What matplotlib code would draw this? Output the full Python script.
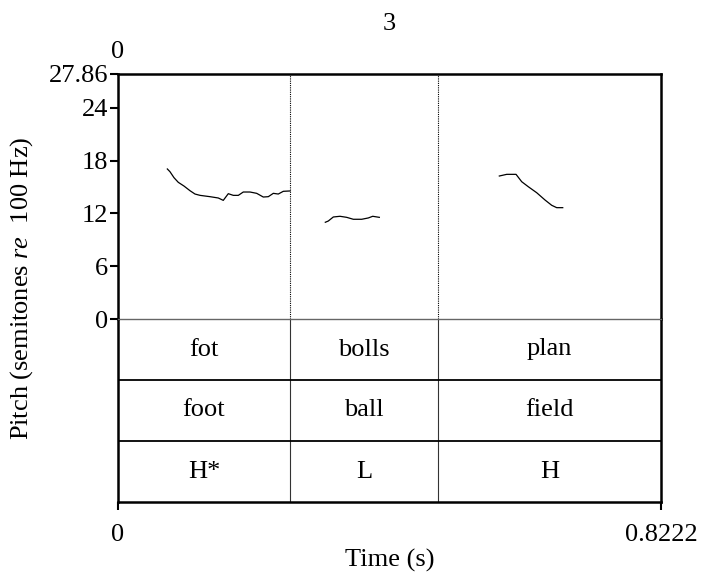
import matplotlib
matplotlib.use("Agg")
import matplotlib.pyplot as plt

plt.rcParams['font.family'] = ['Liberation Serif', 'DejaVu Serif']
plt.rcParams['mathtext.fontset'] = 'custom'
plt.rcParams['mathtext.rm'] = 'Liberation Serif'
plt.rcParams['mathtext.it'] = 'Liberation Serif:italic'

# Data
t_end = 0.8222
y_top = 27.86
boundaries = [0.2604, 0.4846]
tier_words = ["fot", "bolls", "plan"]
tier_gloss = ["foot", "ball", "field"]
tier_tones = ["H*", "L", "H"]

t1 = [0.0747, 0.0787, 0.0848, 0.0913, 0.0999, 0.1090, 0.1166, 0.1242, 0.1393, 0.1519,
      0.1594, 0.1670, 0.1746, 0.1822, 0.1897, 0.1999, 0.2100, 0.2200, 0.2276, 0.2352,
      0.2427, 0.2503, 0.2604]
p1 = [17.06, 16.75, 16.07, 15.54, 15.12, 14.59, 14.21, 14.06, 13.91, 13.76,
      13.49, 14.25, 14.06, 14.06, 14.44, 14.44, 14.29, 13.87, 13.91, 14.29,
      14.21, 14.52, 14.56]
t2 = [0.3139, 0.3184, 0.3260, 0.3361, 0.3463, 0.3563, 0.3690, 0.3790, 0.3857, 0.3957]
p2 = [11.00, 11.14, 11.60, 11.68, 11.56, 11.34, 11.34, 11.49, 11.68, 11.56]
t3 = [0.5774, 0.5886, 0.6027, 0.6113, 0.6213, 0.6340, 0.6466, 0.6567, 0.6643, 0.6734]
p3 = [16.26, 16.45, 16.45, 15.61, 15.04, 14.36, 13.53, 12.93, 12.66, 12.66]

fs = 19
fig = plt.figure(figsize=(7.02, 5.77), dpi=100)
L, W = 118 / 702, 543 / 702
axt = fig.add_axes([L, (577 - 502) / 577, W, 183 / 577])
ax = fig.add_axes([L, (577 - 319) / 577, W, 245 / 577])
ax.patch.set_alpha(0)

# Pitch panel
for t, p in [(t1, p1), (t2, p2), (t3, p3)]:
    ax.plot(t, p, color='black', lw=0.9)
for b in boundaries:
    ax.axvline(b, color='black', lw=0.8, ls=(0, (1, 1)))
ax.set_xlim(0, t_end)
ax.set_ylim(0, y_top)
ax.set_yticks([0, 6, 12, 18, 24, y_top])
ax.set_yticklabels(["0", "6", "12", "18", "24", "27.86"])
ax.set_xticks([])
ax.tick_params(axis='y', direction='out', length=6, width=1.5, labelsize=fs, pad=1)
for s in ['left', 'top', 'right']:
    ax.spines[s].set_linewidth(1.8)
ax.spines['bottom'].set_linewidth(1.0)
ax.spines['bottom'].set_color('#666666')
ax.text(0, 1.045, "0", transform=ax.transAxes, ha='center', va='bottom', fontsize=fs)
ax.set_title("3", fontsize=fs, pad=32)

# Tiers
axt.set_xlim(0, t_end)
axt.set_ylim(0, 3)
edges = [0] + boundaries + [t_end]
for b in boundaries:
    axt.axvline(b, color='#333333', lw=0.8)
for y in [1, 2]:
    axt.axhline(y, color='black', lw=1.3)
for row, labels in zip([2.5, 1.5, 0.5], [tier_words, tier_gloss, tier_tones]):
    for i, lab in enumerate(labels):
        axt.text((edges[i] + edges[i + 1]) / 2, row, lab, ha='center', va='center', fontsize=fs)
axt.set_yticks([])
axt.set_xticks([0, t_end])
axt.set_xticklabels(["0", "0.8222"])
axt.tick_params(axis='x', direction='out', length=6, width=1.5, labelsize=fs, pad=10)
for s in ['left', 'bottom', 'right']:
    axt.spines[s].set_linewidth(1.8)
axt.spines['top'].set_visible(False)
axt.set_xlabel("Time (s)", fontsize=fs, labelpad=2)

fig.text(22 / 702, 1 - 288 / 577, r"Pitch (semitones $\it{re}$  100 Hz)", rotation=90,
         ha='center', va='center', fontsize=fs)

fig.savefig("out.png", dpi=100)
